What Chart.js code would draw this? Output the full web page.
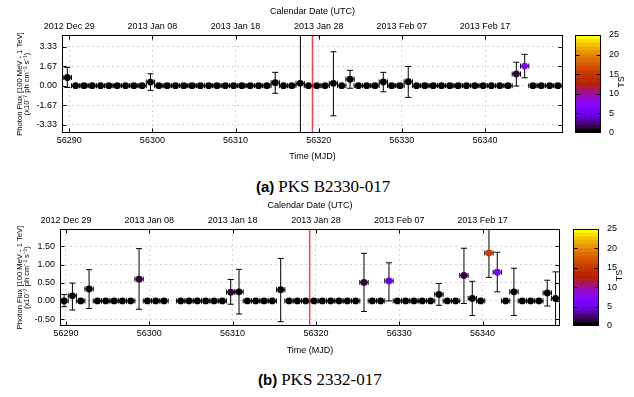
<!DOCTYPE html>
<html>
<head>
<meta charset="utf-8">
<script src="https://cdn.jsdelivr.net/npm/chart.js@4.4.0/dist/chart.umd.min.js"></script>
<style>
    body { margin: 0; background: #fff; width: 634px; height: 397px; position: relative; overflow: hidden; }
    canvas { position: absolute; }
    .cap { position: absolute; white-space: nowrap; line-height: 20px; color: #000; }
    .cap b { font-family: 'Liberation Sans', Arial, sans-serif; font-size: 15px; }
    .cap span { font-family: 'Liberation Serif', 'Times New Roman', serif; font-size: 17px; }
</style>
</head>
<body>
<canvas id="lcA" width="570" height="170" style="left:0;top:0"></canvas>
<canvas id="cbA" width="59" height="170" style="left:575px;top:0"></canvas>
<div class="cap" style="left:256px;top:177px"><b>(a)</b> <span>PKS B2330-017</span></div>

<canvas id="lcB" width="568" height="170" style="left:0;top:194px"></canvas>
<canvas id="cbB" width="61" height="170" style="left:573px;top:194px"></canvas>
<div class="cap" style="left:258px;top:370px"><b>(b)</b> <span>PKS 2332-017</span></div>

<script>
// daily bins, centre of each bin (MJD) - same binning for both sources
let mjd = [
    56289.77, 56290.77, 56291.77, 56292.77, 56293.77, 56294.77, 56295.77, 56296.77, 56297.77, 56298.77,
    56299.77, 56300.77, 56301.77, 56302.77, 56303.77, 56304.77, 56305.77, 56306.77, 56307.77, 56308.77,
    56309.77, 56310.77, 56311.77, 56312.77, 56313.77, 56314.77, 56315.77, 56316.77, 56317.77, 56318.77,
    56319.77, 56320.77, 56321.77, 56322.77, 56323.77, 56324.77, 56325.77, 56326.77, 56327.77, 56328.77,
    56329.77, 56330.77, 56331.77, 56332.77, 56333.77, 56334.77, 56335.77, 56336.77, 56337.77, 56338.77,
    56339.77, 56340.77, 56341.77, 56342.77, 56343.77, 56344.77, 56345.77, 56346.77, 56347.77, 56348.77
];
let binHalfWidth = 0.5;
let mjdTicks = [56290, 56300, 56310, 56320, 56330, 56340];
let calendarLabels = ['2012 Dec 29', '2013 Jan 08', '2013 Jan 18', '2013 Jan 28', '2013 Feb 07', '2013 Feb 17'];
let tsTicks = [0, 5, 10, 15, 20, 25];
let tsMax = 25;
let redLineMjd = 56319.25;

// PKS B2330-017
let fluxA = [
    0.70, 0, 0, 0, 0, 0, 0, 0, 0, 0,
    0.31, 0, 0, 0, 0, 0, 0, 0, 0, 0,
    0, 0, 0, 0, 0, 0.26, 0, 0, 0.20, 0,
    0, 0, 0.20, 0, 0.55, 0, 0, 0, 0.32, 0,
    0, 0.34, 0, 0, 0, 0, 0, 0, 0, 0,
    0, 0, 0, 0, 1.00, 1.68, 0, 0, 0, 0
];
let upA = [
    1.56, null, null, null, null, null, null, null, null, null,
    1.02, null, null, null, null, null, null, null, null, null,
    null, null, null, null, null, 1.14, null, null, null, null,
    null, null, 2.90, null, 1.31, null, null, null, 1.14, null,
    null, 1.64, null, null, null, null, null, null, null, null,
    null, null, null, null, 2.00, 2.68, null, null, null, null
];
let lowA = [
    -0.15, null, null, null, null, null, null, null, null, null,
    -0.40, null, null, null, null, null, null, null, null, null,
    null, null, null, null, null, -0.65, null, null, null, null,
    null, null, -2.57, null, -0.22, null, null, null, -0.52, null,
    null, -1.00, null, null, null, null, null, null, null, null,
    null, null, null, null, -0.03, 0.68, null, null, null, null
];
let tsA = [
    0.8, 0, 0, 0, 0, 0, 0, 0, 0, 0,
    0.5, 0, 0, 0, 0, 0, 0, 0, 0, 0,
    0, 0, 0, 0, 0, 0.5, 0, 0, 0.3, 0,
    0, 0, 0.1, 0, 0.9, 0, 0, 0, 0.5, 0,
    0, 0.3, 0, 0, 0, 0, 0, 0, 0, 0,
    0, 0, 0, 0, 1.5, 6, 0, 0, 0, 0
];
let fluxTicksA = [-3.33, -1.67, 0, 1.67, 3.33];
let blackLineMjdA = 56317.8;

// PKS 2332-017
let fluxB = [
    0.00, 0.14, 0, 0.33, 0, 0, 0, 0, 0, 0.60,
    0, 0, 0, null, 0, 0, 0, 0, 0, 0,
    0.24, 0.25, 0, 0, 0, 0, 0.31, 0, 0, 0,
    0, 0, 0, 0, 0, 0, 0.51, 0, 0, 0.55,
    0, 0, 0, 0, 0, 0.18, 0, 0, 0.70, 0.07,
    0, 1.32, 0.79, 0, 0.25, 0, 0, 0, 0.22, 0.07
];
let upB = [
    0.18, 0.49, null, 0.86, null, null, null, null, null, 1.44,
    null, null, null, null, null, null, null, null, null, null,
    0.59, 0.87, null, null, null, null, 1.17, null, null, null,
    null, null, null, null, null, null, 1.31, null, null, 1.05,
    null, null, null, null, null, 0.48, null, null, 1.45, 0.54,
    null, 2.30, 1.34, null, 0.90, null, null, null, 0.57, 0.80
];
let lowB = [
    -0.16, -0.25, null, -0.21, null, null, null, null, null, -0.23,
    null, null, null, null, null, null, null, null, null, null,
    -0.09, -0.36, null, null, null, null, -0.57, null, null, null,
    null, null, null, null, null, null, -0.29, null, null, 0.00,
    null, null, null, null, null, -0.12, null, null, -0.07, -0.40,
    null, 0.65, 0.25, null, -0.40, null, null, null, -0.14, -0.90
];
let tsB = [
    0.3, 0.5, 0, 0.8, 0, 0, 0, 0, 0, 1.5,
    0, 0, 0, 0, 0, 0, 0, 0, 0, 0,
    1.5, 0.8, 0, 0, 0, 0, 0.5, 0, 0, 0,
    0, 0, 0, 0, 0, 0, 1.8, 0, 0, 4,
    0, 0, 0, 0, 0, 0.5, 0, 0, 1.8, 0.2,
    0, 15.5, 5.5, 0, 0.8, 0, 0, 0, 0.7, 0.2
];
let fluxTicksB = [-0.5, 0, 0.5, 1.0, 1.5];

Chart.defaults.font.family = "'Liberation Sans', Arial, sans-serif";
Chart.defaults.color = '#000';

// functions

// gnuplot rgbformulae 7,5,15 with 25 discrete colours
function tsColor(ts){
    let x = Math.min(Math.floor(ts), tsMax - 1) / (tsMax - 1);
    let r = Math.sqrt(x);
    let g = x * x * x;
    let b = Math.max(0, Math.sin(2 * Math.PI * x));
    return 'rgb(' + Math.round(r * 255) + ',' + Math.round(g * 255) + ',' + Math.round(b * 255) + ')';
}

let errorBars = {
    id: 'errorBars',
    beforeDatasetsDraw(chart){
        let src = chart.options.plugins.errorBars;
        let xs = chart.scales.x;
        let ys = chart.scales.y;
        let area = chart.chartArea;
        let ctx = chart.ctx;
        ctx.save();
        ctx.beginPath();
        ctx.rect(area.left, area.top, area.right - area.left, area.bottom - area.top);
        ctx.clip();
        ctx.strokeStyle = '#000';
        ctx.lineWidth = 1;
        for(let i = 0; i < mjd.length; i++){
            if(src.flux[i] == null) continue;
            let px = xs.getPixelForValue(mjd[i]);
            let py = ys.getPixelForValue(src.flux[i]);
            let x0 = xs.getPixelForValue(mjd[i] - binHalfWidth);
            let x1 = xs.getPixelForValue(mjd[i] + binHalfWidth);
            ctx.beginPath();
            ctx.moveTo(x0, py); ctx.lineTo(x1, py);
            ctx.moveTo(x0, py - 2.5); ctx.lineTo(x0, py + 2.5);
            ctx.moveTo(x1, py - 2.5); ctx.lineTo(x1, py + 2.5);
            if(src.up[i] != null){
                let yt = ys.getPixelForValue(src.up[i]);
                let yb = ys.getPixelForValue(src.low[i]);
                ctx.moveTo(px, yt); ctx.lineTo(px, yb);
                ctx.moveTo(px - 3, yt); ctx.lineTo(px + 3, yt);
                ctx.moveTo(px - 3, yb); ctx.lineTo(px + 3, yb);
            }
            ctx.stroke();
        }
        ctx.restore();
    }
};

// border box with inward ticks on all four sides
let frame = {
    id: 'frame',
    afterDraw(chart){
        let ctx = chart.ctx;
        let a = chart.chartArea;
        let l = Math.round(a.left) + 0.5, r = Math.round(a.right) - 0.5;
        let t = Math.round(a.top) + 0.5, b = Math.round(a.bottom) - 0.5;
        ctx.save();
        ctx.strokeStyle = '#000';
        ctx.lineWidth = 1;
        ctx.beginPath();
        let xs = chart.scales.x;
        if(xs && xs.options.display !== false){
            xs.ticks.forEach(tk => {
                let p = Math.round(xs.getPixelForValue(tk.value)) + 0.5;
                ctx.moveTo(p, b); ctx.lineTo(p, b - 4);
                ctx.moveTo(p, t); ctx.lineTo(p, t + 4);
            });
        }
        let ys = chart.scales.y;
        ys.ticks.forEach(tk => {
            if(tk.value <= ys.min || tk.value >= ys.max) return;
            let p = Math.round(ys.getPixelForValue(tk.value)) + 0.5;
            ctx.moveTo(l, p); ctx.lineTo(l + 4, p);
            ctx.moveTo(r, p); ctx.lineTo(r - 4, p);
        });
        ctx.stroke();
        ctx.strokeRect(l, t, r - l, b - t);
        let label = chart.options.plugins.frame.sideLabel;
        if(label){
            ctx.font = "9px 'Liberation Sans', Arial, sans-serif";
            ctx.fillStyle = '#000';
            ctx.textAlign = 'center';
            ctx.textBaseline = 'middle';
            ctx.translate(a.right + 21, (a.top + a.bottom) / 2 - 2);
            ctx.rotate(-Math.PI / 2);
            ctx.fillText(label, 0, 0);
        }
        ctx.restore();
    }
};

function buildLightCurve(canvasId, src){
    let datasets = [];
    src.lines.forEach(ln => {
        datasets.push({
            type: 'line',
            data: [{x: ln.x, y: src.yMin}, {x: ln.x, y: src.yMax}],
            borderColor: ln.color,
            borderWidth: ln.width,
            pointRadius: 0,
            showLine: true
        });
    });
    datasets.push({
        data: mjd.map((m, i) => ({x: m, y: src.flux[i]})),
        pointBackgroundColor: src.ts.map(v => tsColor(v)),
        pointBorderWidth: 0,
        pointRadius: 3.4
    });

    let gridColor = '#d6d6d6';
    let tickFont = {size: 9};
    return new Chart(document.getElementById(canvasId), {
        type: 'scatter',
        data: {datasets: datasets},
        plugins: [errorBars, frame],
        options: {
            responsive: false,
            animation: false,
            devicePixelRatio: 1,
            layout: {padding: {left: 0, right: src.padRight, top: 0, bottom: 0}},
            plugins: {
                legend: {display: false},
                tooltip: {enabled: false},
                errorBars: {flux: src.flux, up: src.up, low: src.low},
                frame: {}
            },
            scales: {
                x: {
                    type: 'linear',
                    position: 'bottom',
                    min: src.xMin,
                    max: src.xMax,
                    afterBuildTicks: s => { s.ticks = mjdTicks.map(v => ({value: v})); },
                    afterFit: s => { s.height = src.bottomH; },
                    ticks: {font: tickFont, padding: 2, maxRotation: 0, autoSkip: false, callback: v => String(v)},
                    grid: {color: gridColor, drawTicks: false},
                    border: {display: false, dash: [2, 3]},
                    title: {display: true, text: 'Time (MJD)', font: tickFont, padding: {top: 0, bottom: 8}}
                },
                x2: {
                    type: 'linear',
                    position: 'top',
                    min: src.xMin,
                    max: src.xMax,
                    afterBuildTicks: s => { s.ticks = mjdTicks.map(v => ({value: v})); },
                    afterFit: s => { s.height = src.topH; },
                    ticks: {font: tickFont, padding: 3, maxRotation: 0, autoSkip: false, callback: (v, i) => calendarLabels[i]},
                    grid: {display: false, drawTicks: false},
                    border: {display: false},
                    title: {display: true, text: 'Calendar Date (UTC)', font: tickFont, padding: {top: 6, bottom: 0}}
                },
                y: {
                    position: 'left',
                    min: src.yMin,
                    max: src.yMax,
                    afterBuildTicks: s => { s.ticks = src.yTicks.map(v => ({value: v})); },
                    afterFit: s => { s.width = src.yW; },
                    ticks: {font: tickFont, padding: 5, callback: v => v.toFixed(2)},
                    grid: {color: gridColor, drawTicks: false},
                    border: {display: false, dash: [2, 3]},
                    title: {
                        display: true,
                        text: ['Photon Flux [100 MeV - 1 TeV]', '(x10\u207B\u2077 ph cm\u207B\u00B2 s\u207B\u00B9)'],
                        font: {size: 7.6, lineHeight: 0.98},
                        padding: {top: 16, bottom: 0}
                    }
                }
            }
        }
    });
}

function buildColorBar(canvasId, padBottom, yW){
    let datasets = [];
    for(let i = 0; i < tsMax; i++){
        datasets.push({data: [1], backgroundColor: tsColor(i), borderWidth: 0, barPercentage: 1, categoryPercentage: 1});
    }
    return new Chart(document.getElementById(canvasId), {
        type: 'bar',
        data: {labels: ['TS'], datasets: datasets},
        plugins: [frame],
        options: {
            responsive: false,
            animation: false,
            devicePixelRatio: 1,
            layout: {padding: {left: 0, right: 0, top: 35, bottom: padBottom}},
            plugins: {legend: {display: false}, tooltip: {enabled: false}, frame: {sideLabel: 'TS'}},
            scales: {
                x: {stacked: true, display: false},
                y: {
                    stacked: true,
                    position: 'right',
                    min: 0,
                    max: tsMax,
                    afterBuildTicks: s => { s.ticks = tsTicks.map(v => ({value: v})); },
                    afterFit: s => { s.width = yW; },
                    ticks: {font: {size: 9}, padding: 8},
                    grid: {display: false, drawTicks: false},
                    border: {display: false}
                }
            }
        }
    });
}

buildLightCurve('lcA', {
    flux: fluxA, up: upA, low: lowA, ts: tsA,
    xMin: 56289.13, xMax: 56349.38, yMin: -4.04, yMax: 4.33, yTicks: fluxTicksA,
    lines: [
        {x: redLineMjd, color: 'rgba(255,30,30,0.85)', width: 1.5},
        {x: blackLineMjdA, color: '#000', width: 1}
    ],
    yW: 62, padRight: 7, topH: 35, bottomH: 37
});
buildColorBar('cbA', 37, 33);

buildLightCurve('lcB', {
    flux: fluxB, up: upB, low: lowB, ts: tsB,
    xMin: 56289.28, xMax: 56349.3, yMin: -0.69, yMax: 1.98, yTicks: fluxTicksB,
    lines: [
        {x: redLineMjd, color: 'rgba(255,30,30,0.85)', width: 1.5}
    ],
    yW: 60, padRight: 8, topH: 35, bottomH: 38
});
buildColorBar('cbB', 38, 35);
</script>
</body>
</html>
